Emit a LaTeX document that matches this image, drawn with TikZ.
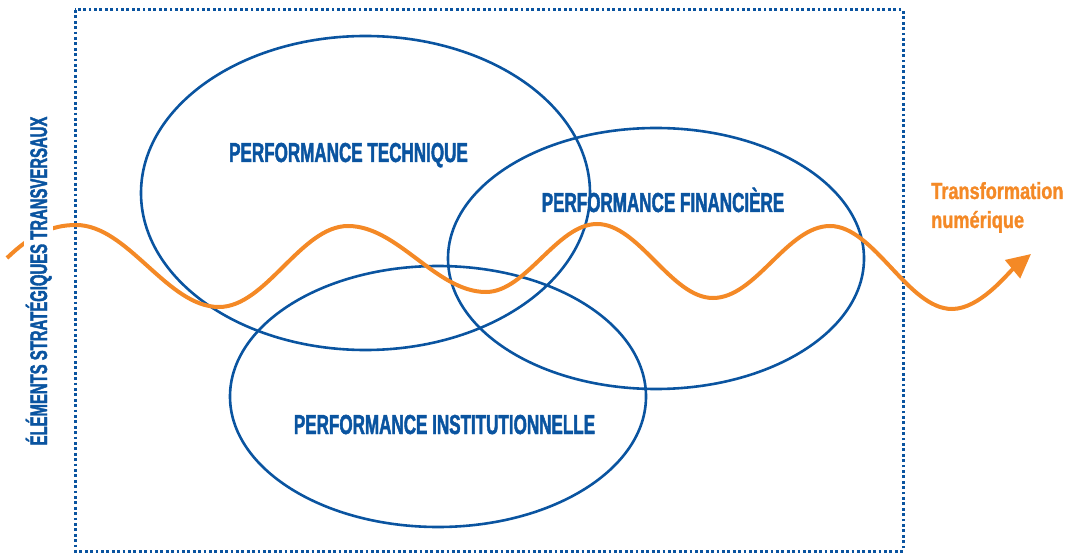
\documentclass[tikz,border=0pt]{standalone}
\usepackage{fontspec}
\setmainfont{Liberation Sans}
\newfontfamily\condfont[FakeStretch=0.62,FakeBold=1.6,UprightFont={* Bold},BoldFont={* Bold}]{Liberation Sans}
\newfontfamily\orgfont[FakeStretch=0.78,FakeBold=1.2,UprightFont={* Bold},BoldFont={* Bold}]{Liberation Sans}
\usetikzlibrary{arrows.meta}
\definecolor{pblue}{RGB}{10,84,160}
\definecolor{porange}{RGB}{244,137,38}
\begin{document}
\begin{tikzpicture}[x=1pt,y=-1pt,
  ell/.style={draw=pblue,line width=2.6pt},
  frame/.style={draw=pblue,line width=3pt,dash pattern=on 2.8pt off 2.6pt},
  lbl/.style={text=pblue,font=\condfont\fontsize{27.5}{30}\selectfont,anchor=base,inner sep=0pt},
  vlbl/.style={text=pblue,font=\condfont\fontsize{24}{26}\selectfont,rotate=90,anchor=base,fill=white,inner xsep=0pt,inner ysep=1.5pt},
  olbl/.style={text=porange,font=\orgfont\fontsize{23.3}{26}\selectfont,anchor=base west,inner sep=0pt},
  wave/.style={draw=porange,line width=4pt,-{Triangle[length=24pt,width=23pt]}}]
\useasboundingbox (0,0) rectangle (1073,553);
% frame
\draw[frame] (75,10) rectangle (903,551);
% ellipses
\draw[ell] (365.5,193) ellipse [x radius=224.5, y radius=157];
\draw[ell] (656,258.5) ellipse [x radius=208, y radius=130.5];
\draw[ell] (438,396.5) ellipse [x radius=208, y radius=130.5];
% labels
\node[lbl] (tech) at (348.5,162) {PERFORMANCE TECHNIQUE};
\node[lbl] (fin) at (663,212) {PERFORMANCE FINANCIÈRE};
\node[lbl] (inst) at (444.5,434) {PERFORMANCE INSTITUTIONNELLE};
% wave
\draw[wave] (7,258) .. controls (30,236) and (50,225) .. (76,225)
  .. controls (128,225) and (167,307) .. (219,307)
  .. controls (266,307) and (301,226) .. (348,226)
  .. controls (398,226) and (436,292) .. (486,292)
  .. controls (526,292) and (557,224) .. (597,224)
  .. controls (639,224) and (671,298) .. (713,298)
  .. controls (756,298) and (787,226) .. (830,226)
  .. controls (874,226) and (908,309) .. (952,309)
  .. controls (980,309) and (1008,273) .. (1031,254);
% vertical label
\node[vlbl] (elem) at (47,281) {ÉLÉMENTS STRATÉGIQUES TRANSVERSAUX};
% orange label
\node[olbl] (tf1) at (931,199) {Transformation};
\node[olbl] (tf2) at (931,228) {numérique};
\end{tikzpicture}
\end{document}
